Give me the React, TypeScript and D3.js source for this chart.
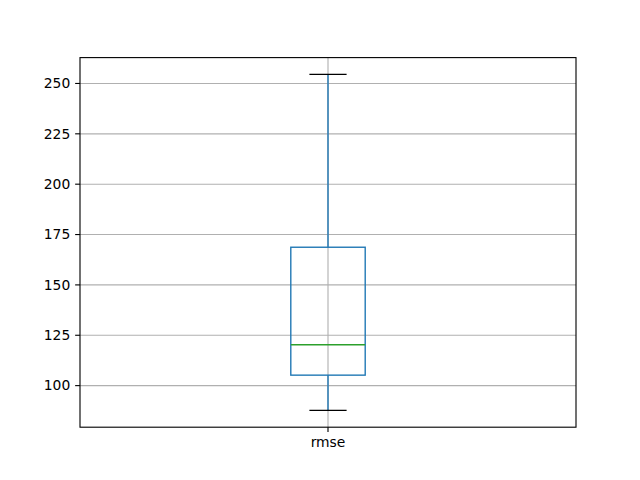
import React from "react";
import * as d3 from "d3";

// box statistics
const categories = ["rmse"];
const whiskerLow = [87.7];
const q1 = [105.2];
const median = [120.3];
const q3 = [168.7];
const whiskerHigh = [254.5];
const yTicks = [100, 125, 150, 175, 200, 225, 250];

const W = 640;
const H = 480;
const m = { top: 57.6, right: 64, bottom: 52.8, left: 80 };
const pt = 100 / 72; // px per point

const App = () => {
  const innerW = W - m.left - m.right;
  const innerH = H - m.top - m.bottom;

  const lo = d3.min(whiskerLow) as number;
  const hi = d3.max(whiskerHigh) as number;
  const pad = (hi - lo) * 0.05;

  const yScale = d3.scaleLinear().domain([lo - pad, hi + pad]).range([innerH, 0]);
  const xScale = d3
    .scaleLinear()
    .domain([0.5, categories.length + 0.5])
    .range([0, innerW]);

  const boxW = xScale(1.15) - xScale(1);
  const tickLen = 3.5 * pt;
  const font = "DejaVu Sans, sans-serif";
  const fontSize = 10 * pt;

  return (
    <div style={{ position: "fixed", left: 0, top: 0 }}>
      <svg width={W} height={H} style={{ display: "block", background: "#fff" }}>
        <g transform={`translate(${m.left},${m.top})`}>
          {/* grid */}
          {yTicks.map((t) => (
            <line key={"gy" + t} x1={0} x2={innerW} y1={yScale(t)} y2={yScale(t)}
              stroke="#b0b0b0" strokeWidth={0.8 * pt} />
          ))}
          {categories.map((c, i) => (
            <line key={"gx" + c} x1={xScale(i + 1)} x2={xScale(i + 1)} y1={0} y2={innerH}
              stroke="#b0b0b0" strokeWidth={0.8 * pt} />
          ))}

          {/* boxes */}
          {categories.map((c, i) => {
            const cx = xScale(i + 1);
            return (
              <g key={c}>
                <line x1={cx} x2={cx} y1={yScale(q1[i])} y2={yScale(whiskerLow[i])}
                  stroke="#1f77b4" strokeWidth={pt} />
                <line x1={cx} x2={cx} y1={yScale(q3[i])} y2={yScale(whiskerHigh[i])}
                  stroke="#1f77b4" strokeWidth={pt} />
                <line x1={cx - boxW / 4} x2={cx + boxW / 4} y1={yScale(whiskerLow[i])} y2={yScale(whiskerLow[i])}
                  stroke="#000" strokeWidth={pt} />
                <line x1={cx - boxW / 4} x2={cx + boxW / 4} y1={yScale(whiskerHigh[i])} y2={yScale(whiskerHigh[i])}
                  stroke="#000" strokeWidth={pt} />
                <rect x={cx - boxW / 2} y={yScale(q3[i])} width={boxW}
                  height={yScale(q1[i]) - yScale(q3[i])}
                  fill="none" stroke="#1f77b4" strokeWidth={pt} />
                <line x1={cx - boxW / 2} x2={cx + boxW / 2} y1={yScale(median[i])} y2={yScale(median[i])}
                  stroke="#2ca02c" strokeWidth={pt} />
              </g>
            );
          })}

          {/* frame */}
          <rect x={0} y={0} width={innerW} height={innerH} fill="none" stroke="#000" strokeWidth={0.8 * pt} />

          {/* y axis */}
          {yTicks.map((t) => (
            <g key={"ty" + t} transform={`translate(0,${yScale(t)})`}>
              <line x1={-tickLen} x2={0} stroke="#000" strokeWidth={0.8 * pt} />
              <text x={-tickLen - 3.5 * pt} dy="0.35em" textAnchor="end"
                fontFamily={font} fontSize={fontSize} fill="#000">{t}</text>
            </g>
          ))}

          {/* x axis */}
          {categories.map((c, i) => (
            <g key={"tx" + c} transform={`translate(${xScale(i + 1)},${innerH})`}>
              <line y1={0} y2={tickLen} stroke="#000" strokeWidth={0.8 * pt} />
              <text y={tickLen + 3.5 * pt} dy="0.76em" textAnchor="middle"
                fontFamily={font} fontSize={fontSize} fill="#000">{c}</text>
            </g>
          ))}
        </g>
      </svg>
    </div>
  );
};

export default App;
